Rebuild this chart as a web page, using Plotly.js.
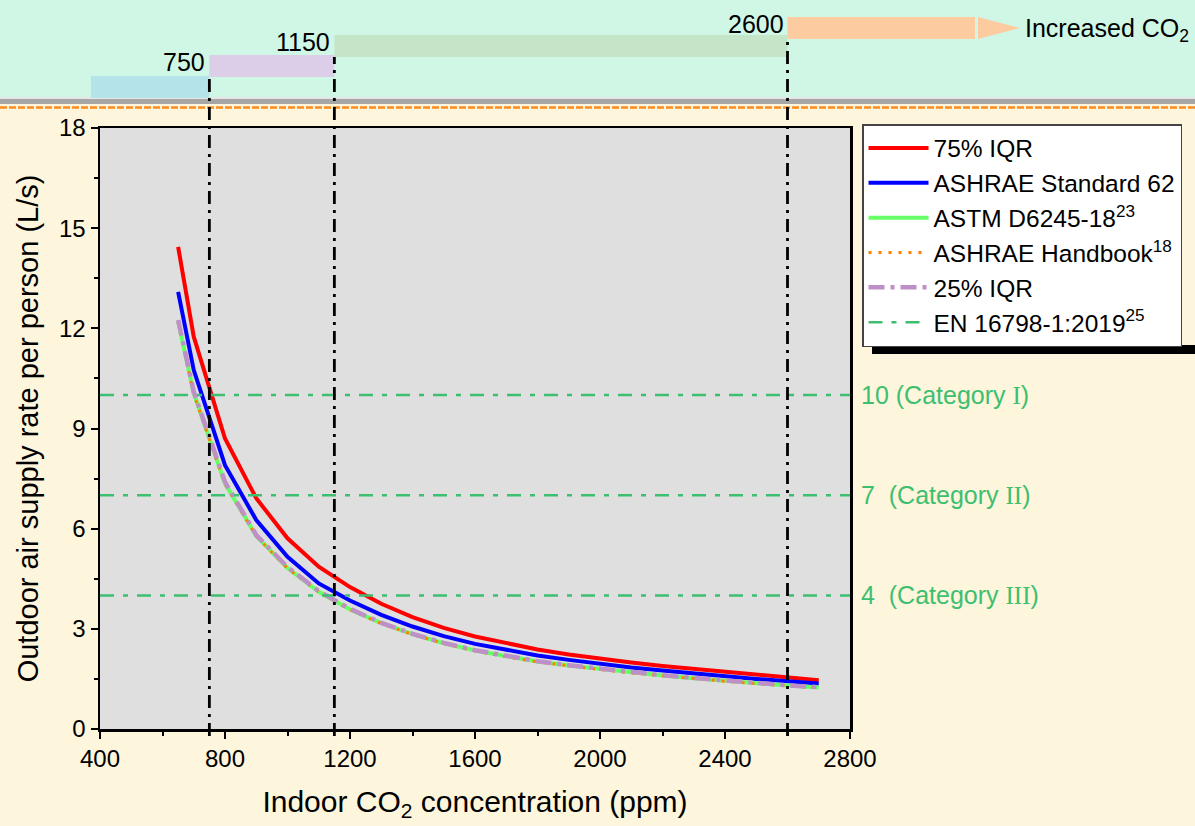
<!DOCTYPE html>
<html>
<head>
<meta charset="utf-8">
<script src="https://cdn.plot.ly/plotly-3.0.1.min.js"></script>
<style>html,body{margin:0;padding:0;background:#fdf5dc;}#chart{width:1195px;height:826px;}</style>
</head>
<body>
<div id="chart"></div>
<script>
// ---- data ----
var ppm = [650,700,800,900,1000,1100,1200,1300,1400,1500,1600,1700,1800,1900,2000,2100,2200,2300,2400,2500,2600,2700];
var iqr75 = [14.44,11.75,8.70,6.91,5.71,4.86,4.25,3.75,3.35,3.03,2.77,2.56,2.38,2.23,2.10,1.99,1.89,1.80,1.71,1.63,1.55,1.46];
var ashrae62 = [13.09,10.75,7.90,6.26,5.16,4.36,3.85,3.42,3.07,2.78,2.55,2.36,2.20,2.07,1.95,1.84,1.75,1.66,1.58,1.50,1.43,1.36];
var astm = [12.20,10.05,7.35,5.78,4.82,4.11,3.58,3.17,2.84,2.57,2.35,2.17,2.02,1.90,1.79,1.69,1.60,1.52,1.44,1.37,1.30,1.24];
var handbook = [12.18,10.03,7.33,5.77,4.81,4.10,3.57,3.16,2.83,2.56,2.34,2.16,2.01,1.89,1.78,1.68,1.59,1.51,1.43,1.36,1.29,1.23];
var iqr25 = [12.25,10.10,7.40,5.81,4.85,4.13,3.60,3.18,2.85,2.58,2.36,2.18,2.03,1.91,1.80,1.70,1.61,1.53,1.45,1.38,1.31,1.25];
var enLevels = [10, 7, 4];
var enLabels = ['10 (Category <span style="font-family:Liberation Serif">I</span>)',
                '7  (Category <span style="font-family:Liberation Serif">II</span>)',
                '4  (Category <span style="font-family:Liberation Serif">III</span>)'];
var thresholds = [750, 1150, 2600];
var thresholdLabels = ['750', '1150', '2600'];
var bandStart = 371, bandEnd = 3200;
var xRange = [400, 2800], yRange = [0, 18];

// ---- layout helpers (pixel geometry of the frame) ----
var W = 1195, H = 826, L = 100, R = 345, T = 128, B = 97;
var plotH = H - T - B, plotW = W - L - R;
function xp(v){ return (v - xRange[0]) / (xRange[1] - xRange[0]); }
function xpx(px){ return (px - L) / plotW; }
function yp(py){ return (H - B - py) / plotH; }

var font = 'Liberation Sans, Arial, sans-serif';
var enColor = '#3dbf70';

// EN horizontal lines as one trace with gaps
var enX = [], enY = [];
enLevels.forEach(function(v, i){
  enX.push(xRange[0], xRange[1]); enY.push(v, v);
  if (i < enLevels.length - 1){ enX.push(null); enY.push(null); }
});

var traces = [
  {x: ppm, y: iqr75, name: '75% IQR', mode: 'lines', line: {color: '#ff0000', width: 4}},
  {x: ppm, y: ashrae62, name: 'ASHRAE Standard 62', mode: 'lines', line: {color: '#0000ff', width: 4}},
  {x: ppm, y: astm, name: 'ASTM D6245-18<sup>23</sup>', mode: 'lines', line: {color: '#66ff66', width: 4}},
  {x: ppm, y: handbook, name: 'ASHRAE Handbook<sup>18</sup>', mode: 'lines', line: {color: '#ff8000', width: 3, dash: '3px,7px'}},
  {x: ppm, y: iqr25, name: '25% IQR', mode: 'lines', line: {color: '#bf8fc8', width: 4.5, dash: '16px,6px,4px,6px'}},
  {x: enX, y: enY, name: 'EN 16798-1:2019<sup>25</sup>', mode: 'lines', connectgaps: false, line: {color: enColor, width: 2.5, dash: '14px,9px,5px,9px'}}
];

var shapes = [];
// top mint band
shapes.push({type:'rect', xref:'paper', yref:'paper', x0: xpx(-10), x1: xpx(W+10), y0: yp(98), y1: yp(-5), fillcolor:'#d0f7e6', line:{width:0}, layer:'below'});
// grey separator
shapes.push({type:'rect', xref:'paper', yref:'paper', x0: xpx(-10), x1: xpx(W+10), y0: yp(104), y1: yp(98), fillcolor:'#a6a6a6', line:{width:0}, layer:'below'});
shapes.push({type:'rect', xref:'paper', yref:'paper', x0: xpx(-10), x1: xpx(W+10), y0: yp(99), y1: yp(97), fillcolor:'#e6e6e6', line:{width:0}, layer:'below'});
// orange dashed line
shapes.push({type:'line', xref:'paper', yref:'paper', x0: xpx(0), x1: xpx(W), y0: yp(107.5), y1: yp(107.5), line:{color:'#ff8a1c', width:2.5, dash:'7px,2px'}, layer:'below'});
// staircase bars
var barColors = ['#b4e4ea', '#dccde8', '#c5e5c8', '#fccca0'];
var barTops = [76, 55, 35, 17], barH = 22;
var edges = [bandStart].concat(thresholds).concat([bandEnd]);
for (var i = 0; i < 4; i++){
  shapes.push({type:'rect', xref:'paper', yref:'paper', x0: xp(edges[i]), x1: xp(edges[i+1]), y0: yp(barTops[i] + barH), y1: yp(barTops[i]), fillcolor: barColors[i], line:{width:0}, layer:'below'});
}
// arrow head
var ax0 = xpx(978), ax1 = xpx(1020), ayTop = yp(17), ayBot = yp(39), ayMid = yp(28);
shapes.push({type:'path', xref:'paper', yref:'paper', path: 'M'+ax0+','+ayTop+' L'+ax1+','+ayMid+' L'+ax0+','+ayBot+' Z', fillcolor:'#fccca0', line:{width:0}, layer:'below'});
// vertical threshold lines
for (var j = 0; j < thresholds.length; j++){
  shapes.push({type:'line', xref:'paper', yref:'paper', x0: xp(thresholds[j]), x1: xp(thresholds[j]), y0: yp(736), y1: yp(barTops[j+1] + barH), line:{color:'#000', width:2.8, dash:'13px,6px,3px,6px'}, layer:'above'});
}
// legend shadow
shapes.push({type:'rect', xref:'paper', yref:'paper', x0: xpx(872), x1: xpx(W+20), y0: yp(354), y1: yp(345), fillcolor:'#000', line:{width:0}, layer:'below'});

var annotations = [];
for (var k = 0; k < thresholds.length; k++){
  annotations.push({xref:'paper', yref:'paper', x: xp(thresholds[k]), xanchor:'right', xshift:-2, y: yp(barTops[k+1] + barH/2 - 4), yanchor:'middle', text: thresholdLabels[k], showarrow:false, font:{family:font, size:25, color:'#000'}});
}
annotations.push({xref:'paper', yref:'paper', x: xpx(1023), xanchor:'left', y: yp(30), yanchor:'middle', text:'Increased CO<sub>2</sub>', showarrow:false, font:{family:font, size:25, color:'#000'}});
for (var m = 0; m < enLevels.length; m++){
  annotations.push({xref:'paper', yref:'y', x: xpx(859), xanchor:'left', y: enLevels[m], yanchor:'middle', text: enLabels[m], showarrow:false, font:{family:font, size:25, color:enColor}});
}

var layout = {
  width: W, height: H,
  margin: {l: L, r: R, t: T, b: B, pad: 0, autoexpand: false},
  paper_bgcolor: '#fdf5dc',
  plot_bgcolor: '#dfdfdf',
  showlegend: true,
  legend: {x: xpx(862), y: yp(124), xanchor:'left', yanchor:'top', bgcolor:'#ffffff', bordercolor:'#444', borderwidth:1.5, font:{family:font, size:24.5, color:'#000'}, tracegroupgap:0, itemwidth:60},
  xaxis: {range: xRange, dtick: 400, tick0: 400, ticks:'outside', ticklen:7, tickwidth:2, tickcolor:'#000', showline:true, linecolor:'#000', linewidth:2.5, mirror:true, showgrid:false, zeroline:false,
          tickfont:{family:font, size:24, color:'#000'},
          minor:{dtick:200, ticks:'outside', ticklen:4, tickwidth:2, tickcolor:'#000', showgrid:false},
          title:{text:'Indoor CO<sub>2</sub> concentration (ppm)', font:{family:font, size:30, color:'#000'}, standoff:20}},
  yaxis: {range: yRange, dtick: 3, tick0: 0, ticks:'outside', ticklen:7, tickwidth:2, tickcolor:'#000', showline:true, linecolor:'#000', linewidth:2.5, mirror:true, showgrid:false, zeroline:false,
          tickfont:{family:font, size:24, color:'#000'},
          minor:{dtick:1.5, ticks:'outside', ticklen:4, tickwidth:2, tickcolor:'#000', showgrid:false},
          title:{text:'Outdoor air supply rate per person (L/s)', font:{family:font, size:29, color:'#000'}, standoff:12}},
  shapes: shapes,
  annotations: annotations
};

Plotly.newPlot('chart', traces, layout, {displayModeBar:false, staticPlot:true});
</script>
</body>
</html>
